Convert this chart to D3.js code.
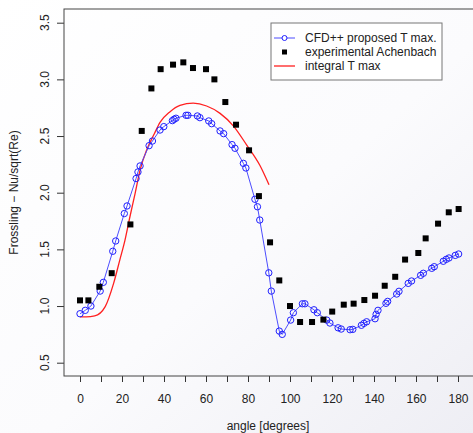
<!DOCTYPE html>
<html>
<head>
<meta charset="utf-8">
<script src="https://cdn.jsdelivr.net/npm/d3@7"></script>
<style>
  body { margin: 0; background: #fff; }
  svg { font-family: "Liberation Sans", Arial, sans-serif; }
</style>
</head>
<body>
<div id="chart"></div>
<script>
// experimental Achenbach (black squares)
const expAngle = [0, 4, 9.2, 15.1, 24, 29.4, 34, 38.4, 44.3, 49.2, 53.8, 60, 64, 69.2, 74.3, 80.5, 85.2,
  90.5, 94.9, 100, 104.8, 110.5, 115.9, 120.1, 125.6, 130.3, 135.4, 140.5, 145.1, 150.1, 154.8,
  161.1, 164.6, 170.5, 175.6, 180.3];
const expValue = [1.05, 1.05, 1.17, 1.29, 1.72, 2.545, 2.92, 3.09, 3.13, 3.15, 3.10, 3.09, 3.0, 2.80, 2.60, 2.374, 1.97,
  1.562, 1.226, 1.0, 0.859, 0.859, 0.88, 0.951, 1.012, 1.021, 1.053, 1.091, 1.179, 1.258, 1.41,
  1.468, 1.597, 1.727, 1.827, 1.856];

// CFD++ proposed T max. (blue circles + line)
const cfdAngle = [0, 2.5, 5.2, 9.6, 11.1, 15.6, 17, 21.1, 22.4, 26.7, 27.6, 28.6, 32.9, 34.5, 38.1, 39.9,
  44, 44.8, 45.7, 50.5, 51.4, 55.9, 57.1, 61.3, 62.7, 66.7, 68.4, 72.4, 73.8, 77.8, 79, 83.3, 84.5,
  85.6, 89.9, 91.1, 94.9, 96.3, 100.3, 101.6, 105.9, 107.1, 111.4, 113, 117.5, 119, 122.9, 124.4,
  128.6, 129.9, 134, 135.2, 136.5, 140.5, 141, 141.9, 145.7, 146.5, 150.8, 151.9, 156.3, 157.9,
  162.2, 163.5, 167.5, 168.7, 173, 174.4, 175.7, 178.7, 180.3];
const cfdValue = [0.932, 0.962, 1.0, 1.132, 1.209, 1.483, 1.574, 1.816, 1.883, 2.125, 2.183, 2.236, 2.415, 2.456,
  2.553, 2.583, 2.636, 2.648, 2.657, 2.683, 2.683, 2.677, 2.662, 2.633, 2.609, 2.545, 2.521, 2.424, 2.392,
  2.259, 2.218, 1.942, 1.876, 1.759, 1.293, 1.132, 0.779, 0.75, 0.876, 0.941, 1.02, 1.02, 0.967, 0.941,
  0.876, 0.85, 0.808, 0.797, 0.791, 0.794, 0.83, 0.847, 0.861, 0.888, 0.927, 0.962, 1.024, 1.041, 1.106,
  1.13, 1.2, 1.221, 1.271, 1.289, 1.333, 1.347, 1.395, 1.412, 1.424, 1.447, 1.459];

// integral T max (red curve)
const intAngle = [0, 3, 7, 12, 16, 19, 21.4, 23.8, 26.2, 28.6, 31.8, 35.4, 38.1, 42.9, 47.6, 53.9, 60.3,
  66.7, 73, 79.4, 85.7, 90];
const intValue = [0.905, 0.905, 0.913, 0.995, 1.2, 1.41, 1.58, 1.79, 1.99, 2.2, 2.38, 2.52, 2.62, 2.715, 2.77,
  2.79, 2.765, 2.70, 2.59, 2.42, 2.24, 2.07];

const xTicks = d3.range(0, 181, 10);
const yTicks = [0.5, 1.0, 1.5, 2.0, 2.5, 3.0, 3.5];
const seriesNames = ["CFD++ proposed T max.", "experimental Achenbach", "integral T max"];

const W = 473, H = 433;
const box = { left: 64, top: 9, right: 474, bottom: 376 };

const svg = d3.select("#chart").append("svg")
  .attr("width", W).attr("height", H);

// faint shading like the screenshot
const grad = svg.append("defs").append("linearGradient")
  .attr("id", "bg").attr("x1", 0).attr("y1", 0).attr("x2", 1).attr("y2", 1);
grad.append("stop").attr("offset", "0%").attr("stop-color", "#ffffff");
grad.append("stop").attr("offset", "55%").attr("stop-color", "#fbfbfd");
grad.append("stop").attr("offset", "100%").attr("stop-color", "#eeeef4");
svg.append("rect").attr("width", W).attr("height", H).attr("fill", "url(#bg)");

const x = d3.scaleLinear().domain([0, 180]).range([80, 458]);
const y = d3.scaleLinear().domain([0.5, 3.5]).range([362.7, 22.7]);

// x axis (ticks every 10, labels every 20)
const xAxis = svg.append("g")
  .attr("transform", `translate(0,${box.bottom})`)
  .call(d3.axisBottom(x).tickValues(xTicks).tickSize(6).tickPadding(12)
    .tickFormat(d => d % 20 === 0 ? d : ""));
xAxis.select(".domain").remove();
xAxis.selectAll("line").attr("stroke", "#333");
xAxis.selectAll("text").attr("font-size", 12).attr("fill", "#222")
  .attr("font-family", "Liberation Sans, Arial, sans-serif");

// y axis, labels rotated like R's default
const yAxis = svg.append("g")
  .attr("transform", `translate(${box.left},0)`)
  .call(d3.axisLeft(y).tickValues(yTicks).tickSize(7).tickFormat(""));
yAxis.select(".domain").remove();
yAxis.selectAll("line").attr("stroke", "#333");

svg.selectAll(".ylab")
  .data(yTicks)
  .join("text")
  .attr("class", "ylab")
  .attr("transform", d => `translate(49,${y(d)}) rotate(-90)`)
  .attr("text-anchor", "middle")
  .attr("font-size", 12)
  .attr("fill", "#222")
  .text(d => d3.format(".1f")(d));

// plot box
svg.append("rect")
  .attr("x", box.left).attr("y", box.top)
  .attr("width", box.right - box.left).attr("height", box.bottom - box.top)
  .attr("fill", "none").attr("stroke", "#444").attr("stroke-width", 1);

// axis titles
svg.append("text")
  .attr("x", 268).attr("y", 430)
  .attr("text-anchor", "middle")
  .attr("font-size", 12).attr("fill", "#222")
  .text("angle [degrees]");

svg.append("text")
  .attr("transform", `translate(18,${(box.top + box.bottom) / 2}) rotate(-90)`)
  .attr("text-anchor", "middle")
  .attr("font-size", 12).attr("fill", "#222")
  .text("Frossling \u2212 Nu/sqrt(Re)");

// red integral curve
const intData = intAngle.map((a, i) => ({ a, v: intValue[i] }));
svg.append("path")
  .datum(intData)
  .attr("fill", "none")
  .attr("stroke", "#ff2020")
  .attr("stroke-width", 1.3)
  .attr("d", d3.line().x(d => x(d.a)).y(d => y(d.v)).curve(d3.curveMonotoneX));

// blue CFD line + circles
const cfdData = cfdAngle.map((a, i) => ({ a, v: cfdValue[i] }));
svg.append("path")
  .datum(cfdData)
  .attr("fill", "none")
  .attr("stroke", "#4d4dff")
  .attr("stroke-width", 1)
  .attr("d", d3.line().x(d => x(d.a)).y(d => y(d.v)));

svg.selectAll(".cfd")
  .data(cfdData)
  .join("circle")
  .attr("class", "cfd")
  .attr("cx", d => x(d.a))
  .attr("cy", d => y(d.v))
  .attr("r", 3.2)
  .attr("fill", "none")
  .attr("stroke", "#2020ff")
  .attr("stroke-width", 1);

// black squares
const expData = expAngle.map((a, i) => ({ a, v: expValue[i] }));
svg.selectAll(".exp")
  .data(expData)
  .join("rect")
  .attr("class", "exp")
  .attr("x", d => x(d.a) - 3)
  .attr("y", d => y(d.v) - 3)
  .attr("width", 6).attr("height", 6)
  .attr("fill", "#000");

// legend
const legend = svg.append("g").attr("transform", "translate(271,23)");
legend.append("rect")
  .attr("width", 171).attr("height", 57)
  .attr("fill", "#fff").attr("stroke", "#777").attr("stroke-width", 1);

seriesNames.forEach((name, i) => {
  const cy = 15 + i * 14;
  if (i === 0) {
    legend.append("line").attr("x1", 3).attr("x2", 24).attr("y1", cy).attr("y2", cy)
      .attr("stroke", "#4d4dff");
    legend.append("circle").attr("cx", 13.5).attr("cy", cy).attr("r", 2.5)
      .attr("fill", "#fff").attr("stroke", "#2020ff");
  } else if (i === 1) {
    legend.append("rect").attr("x", 11).attr("y", cy - 2.5).attr("width", 5).attr("height", 5)
      .attr("fill", "#000");
  } else {
    legend.append("line").attr("x1", 3).attr("x2", 24).attr("y1", cy).attr("y2", cy)
      .attr("stroke", "#ff2020").attr("stroke-width", 1.3);
  }
  legend.append("text")
    .attr("x", 34).attr("y", cy + 4)
    .attr("font-size", 12).attr("fill", "#222")
    .text(name);
});
</script>
</body>
</html>
